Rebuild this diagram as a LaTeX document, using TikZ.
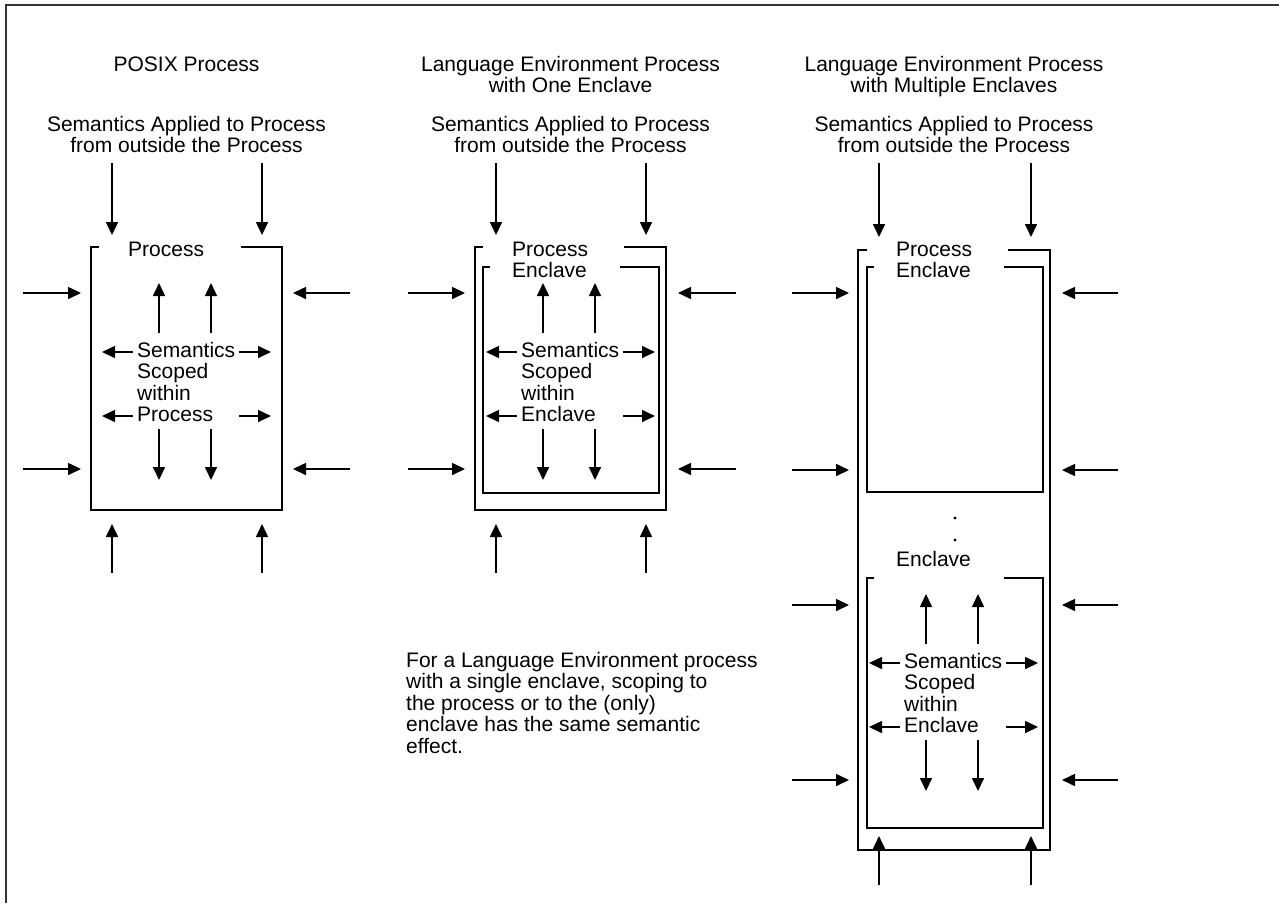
\documentclass[tikz,border=0pt]{standalone}
\usepackage{fontspec}
\setmainfont{Liberation Sans}
\usetikzlibrary{arrows.meta}

\tikzset{
  sem/.style={-{Triangle[length=13pt,width=12pt]},line width=1.6pt},
  wall/.style={line width=1.6pt},
  lbl/.style={inner sep=0pt,font=\fontsize{21}{21.4}\selectfont},
}

% arrows and text scoped inside a box (#1 = last word, #2 = node name)
\newcommand{\semgroup}[2]{%
  \foreach \x in {68,120} {
    \draw[sem] (\x,333) -- (\x,283);
    \draw[sem] (\x,429) -- (\x,480);
  }
  \foreach \y in {352,416} {
    \draw[sem] (42,\y) -- (11,\y);
    \draw[sem] (148,\y) -- (180,\y);
  }
  \node[lbl,anchor=base west,align=left] (#2) at (46,421.5) {Semantics\\Scoped\\within\\#1};
}

\begin{document}
\begin{tikzpicture}[x=1pt,y=-1pt]
  \useasboundingbox (0,0) rectangle (1279,903);
  \draw[line width=2pt,black!80] (6,903) -- (6,5) -- (1279,5);

  % POSIX process
  \begin{scope}[shift={(91,0)}]
    \node[lbl,anchor=base] (title1) at (95.5,71) {POSIX Process};
    \node[lbl,anchor=base,align=center] (head1) at (95.5,152.5) {Semantics Applied to Process\\from outside the Process};
    \foreach \x in {21,171} {
      \draw[sem] (\x,163) -- (\x,235);
      \draw[sem] (\x,573) -- (\x,524);
    }
    \foreach \y in {293,469} {
      \draw[sem] (-68,\y) -- (-10,\y);
      \draw[sem] (259,\y) -- (202,\y);
    }
    \draw[wall] (8,247) -- (0,247) -- (0,510) -- (191,510) -- (191,247) -- (150,247);
    \node[lbl,anchor=base west] (proc1) at (37,256) {Process};
    \semgroup{Process}{scp1}
  \end{scope}

  % one enclave
  \begin{scope}[shift={(475,0)}]
    \node[lbl,anchor=base,align=center] (title2) at (95.5,92.5) {Language Environment Process\\with One Enclave};
    \node[lbl,anchor=base,align=center] (head2) at (95.5,152.5) {Semantics Applied to Process\\from outside the Process};
    \foreach \x in {21,171} {
      \draw[sem] (\x,163) -- (\x,235);
      \draw[sem] (\x,573) -- (\x,524);
    }
    \foreach \y in {293,469} {
      \draw[sem] (-67,\y) -- (-10,\y);
      \draw[sem] (261,\y) -- (203,\y);
    }
    \draw[wall] (8,247) -- (0,247) -- (0,510) -- (191,510) -- (191,247) -- (149,247);
    \draw[wall] (15,267) -- (8,267) -- (8,493) -- (184,493) -- (184,267) -- (145,267);
    \node[lbl,anchor=base west] (proc2) at (37,256) {Process};
    \node[lbl,anchor=base west] (encl2) at (37,277) {Enclave};
    \semgroup{Enclave}{scp2}
    \node[lbl,anchor=base west,align=left] (note) at (-69,753) {For a Language Environment process\\with a single enclave, scoping to\\the process or to the (only)\\enclave has the same semantic\\effect.};
  \end{scope}

  % multiple enclaves
  \begin{scope}[shift={(858,0)}]
    \node[lbl,anchor=base,align=center] (title3) at (96,92.5) {Language Environment Process\\with Multiple Enclaves};
    \node[lbl,anchor=base,align=center] (head3) at (96,152.5) {Semantics Applied to Process\\from outside the Process};
    \foreach \x in {21,173} {
      \draw[sem] (\x,163) -- (\x,237);
      \draw[sem] (\x,885) -- (\x,836);
    }
    \foreach \y in {293,470,605,780} {
      \draw[sem] (-66,\y) -- (-9,\y);
      \draw[sem] (260,\y) -- (204,\y);
    }
    \draw[wall] (9,250) -- (0,250) -- (0,850) -- (192,850) -- (192,250) -- (150,250);
    \draw[wall] (16,267) -- (9,267) -- (9,492) -- (185,492) -- (185,267) -- (146,267);
    \draw[wall] (16,578) -- (9,578) -- (9,828) -- (185,828) -- (185,578) -- (146,578);
    \node[lbl,anchor=base west] (proc3) at (38,256) {Process};
    \node[lbl,anchor=base west] (encl3) at (38,277) {Enclave};
    \fill (97,518) circle (1.6) (97,540) circle (1.6);
    \node[lbl,anchor=base west] (encl4) at (38,566) {Enclave};
    \begin{scope}[shift={(0,311)}]
      \semgroup{Enclave}{scp3}
    \end{scope}
  \end{scope}
\end{tikzpicture}
\end{document}
